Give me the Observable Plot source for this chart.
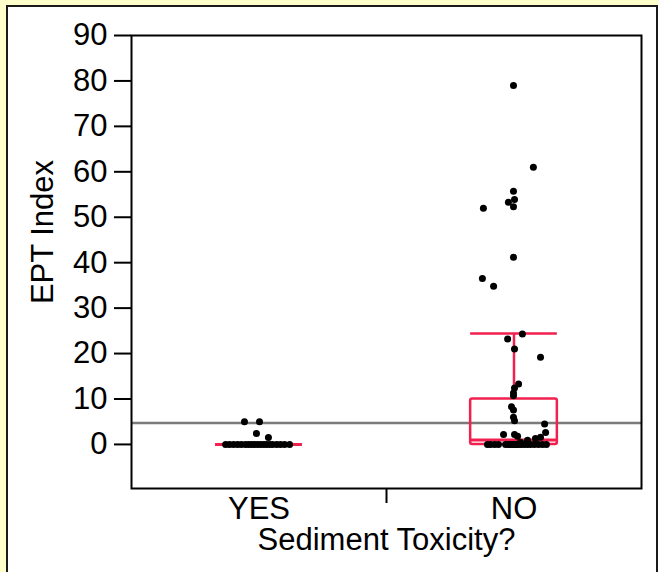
<!DOCTYPE html>
<html><head><meta charset="utf-8">
<script src="https://cdn.jsdelivr.net/npm/d3@7"></script>
<script src="https://cdn.jsdelivr.net/npm/@observablehq/plot@0.6"></script>
<style>
html,body{margin:0;padding:0;background:#ffffcc;width:658px;height:572px;overflow:hidden;}
#panel{position:absolute;left:6px;top:5px;width:648px;height:565px;background:#fff;border-left:2px solid #1a1a1a;border-top:2px solid #1a1a1a;border-right:2px solid #1a1a1a;border-bottom:1px solid #d0d0d0;}
#chart{position:absolute;left:0;top:0;}
</style></head><body><div id="panel"></div><div id="chart"></div>
<script>
// Categories and tick labels
const categories = ["YES", "NO"];
const yTicks = [0, 10, 20, 30, 40, 50, 60, 70, 80, 90];
const xLabel = "Sediment Toxicity?";
const yLabel = "EPT Index";

const yesValues = [5, 5, 2.4, 1.5, 0, 0, 0, 0, 0, 0, 0, 0, 0, 0, 0, 0, 0, 0, 0, 0, 0, 0, 0];
const yesJitter = [-0.057, 0.002, -0.01, 0.037, -0.131, -0.116, -0.1, -0.084, -0.069, -0.053, -0.041, -0.029, -0.018, -0.006, 0.006, 0.018, 0.029, 0.041, 0.053, 0.069, 0.084, 0.1, 0.12];

const noValues = [79, 61, 55.7, 53.9, 53.3, 52.3, 52, 41.2, 36.5, 34.8, 24.3, 23.2, 21, 19.2, 13.3, 12.4, 11.3, 10.7, 8.3, 7.6, 6, 5.2, 4.5, 2.6, 2.2, 2.2, 1.8, 1.6, 1.3, 0.9, 0.5,
  0, 0, 0, 0, 0, 0, 0, 0, 0, 0, 0, 0, 0, 0, 0, 0, 0, 0, 0];
const noJitter = [-0.002, 0.076, -0.002, 0.002, -0.022, -0.002, -0.12, -0.002, -0.124, -0.08, 0.033, -0.025, 0.002, 0.104, 0.018, 0.002, -0.002, -0.002, -0.01, -0.002, -0.002, 0.002, 0.12, 0.124, -0.041, 0.002, 0.014, 0.104, 0.084, 0.053, 0.025,
  -0.104, -0.092, -0.076, -0.061, -0.033, -0.022, -0.014, -0.006, 0.002, 0.01, 0.018, 0.029, 0.041, 0.053, 0.065, 0.08, 0.096, 0.112, 0.127];

// Box plot statistics per category
const boxQ1 = [0, 0];
const boxMedian = [0, 1];
const boxQ3 = [0, 10];
const whiskerLow = [0, 0];
const whiskerHigh = [0, 24.4];

// Reference line
const refLine = [4.7];

const red = "#f2204f";
const hw = 0.17;

const points = [
  ...yesValues.map((v, i) => ({x: categories.indexOf("YES") + yesJitter[i], y: v})),
  ...noValues.map((v, i) => ({x: categories.indexOf("NO") + noJitter[i], y: v}))
];
const boxes = categories.map((c, i) => ({i, q1: boxQ1[i], med: boxMedian[i], q3: boxQ3[i], lo: whiskerLow[i], hi: whiskerHigh[i]}));

const chart = Plot.plot({
  width: 658,
  height: 572,
  marginLeft: 131,
  marginRight: 17,
  marginTop: 35,
  marginBottom: 84,
  style: {fontFamily: "'Liberation Sans', Arial, sans-serif", fontSize: "31px", background: "transparent", color: "black"},
  x: {type: "linear", domain: [-0.5, 1.5], axis: null},
  y: {domain: [-9.7, 90], axis: null},
  marks: [
    Plot.ruleY(refLine, {stroke: "#7a7a7a", strokeWidth: 2.5}),
    Plot.rect(boxes.filter(d => d.q3 > d.q1), {x1: d => d.i - hw, x2: d => d.i + hw, y1: "q1", y2: "q3", stroke: red, fill: "none", strokeWidth: 2.5, rx: 2}),
    Plot.ruleX(boxes, {x: "i", y1: "q3", y2: "hi", stroke: red, strokeWidth: 2.5}),
    Plot.ruleX(boxes, {x: "i", y1: "lo", y2: "q1", stroke: red, strokeWidth: 2.5}),
    Plot.ruleY(boxes, {y: "hi", x1: d => d.i - hw, x2: d => d.i + hw, stroke: red, strokeWidth: 2.5}),
    Plot.ruleY(boxes, {y: "med", x1: d => d.i - hw, x2: d => d.i + hw, stroke: red, strokeWidth: 3}),
    Plot.dot(points, {x: "x", y: "y", r: 3.5, fill: "black", stroke: "none"}),
    Plot.frame({stroke: "black", strokeWidth: 2}),
    Plot.axisY({ticks: yTicks, tickSize: 17, tickPadding: 7, strokeWidth: 2, label: null, fontSize: 31}),
    Plot.axisX({ticks: [0.5], tickSize: 15, tickFormat: () => "", strokeWidth: 2, label: null}),
    Plot.axisX({ticks: [0, 1], tickSize: 0, tickPadding: 8, tickFormat: i => categories[i], label: null, fontSize: 31}),
    Plot.text([xLabel], {frameAnchor: "bottom", dy: 61, lineAnchor: "bottom", text: d => d, fontSize: 31}),
    Plot.text([yLabel], {frameAnchor: "left", dx: -88, dy: -30, rotate: -90, lineAnchor: "middle", textAnchor: "middle", text: d => d, fontSize: 31})
  ]
});
document.getElementById("chart").appendChild(chart);
</script>
</body></html>
